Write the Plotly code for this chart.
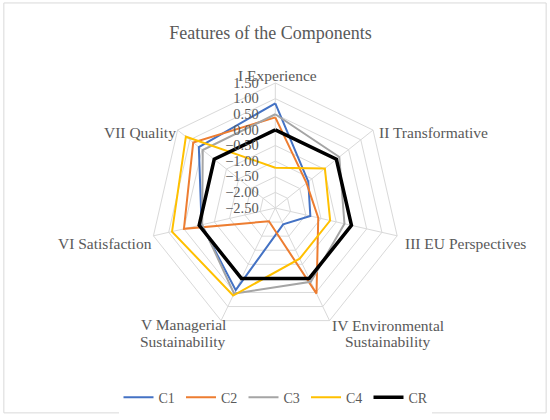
import plotly.graph_objects as go

# Axis categories and component scores
categories = ["I Experience", "II Transformative", "III EU Perspectives",
              "IV Environmental Sustainability", "V Managerial Sustainability",
              "VI Satisfaction", "VII Quality"]

c1 = [0.85, -1.15, -1.35, -1.92, 0.42, -0.08, 0.63]
c2 = [0.40, -1.22, -1.09, 0.54, -2.03, 0.50, 0.86]
c3 = [0.50, 0.12, -0.23, 0.12, 0.54, -0.10, 0.47]
c4 = [-1.21, -0.47, -0.70, -0.70, 0.61, 0.89, 1.16]
cr = [0.00, 0.00, 0.00, 0.00, 0.00, 0.00, 0.00]

radial_ticks = [-2.5, -2.0, -1.5, -1.0, -0.5, 0.0, 0.5, 1.0, 1.5]

series = [("C1", c1, "#4472C4", 2),
          ("C2", c2, "#ED7D31", 2),
          ("C3", c3, "#A5A5A5", 2),
          ("C4", c4, "#FFC000", 2),
          ("CR", cr, "#000000", 3.5)]

fig = go.Figure()

for name, vals, color, width in series:
    fig.add_trace(go.Scatterpolar(
        r=vals + vals[:1],
        theta=categories + categories[:1],
        mode="lines",
        name=name,
        line=dict(color=color, width=width),
    ))

font_family = "Liberation Serif, DejaVu Serif, serif"
grey = "#595959"

# category labels placed like the Excel original (text, x px, y px, anchor)
label_spots = [
    ("I Experience", 277, 75, "center"),
    ("II Transformative", 377, 132, "left"),
    ("III EU Perspectives", 403, 243, "left"),
    ("IV Environmental", 388, 325, "center"),
    ("Sustainability", 388, 341, "center"),
    ("V Managerial", 183, 324, "center"),
    ("Sustainability", 183, 341, "center"),
    ("VI Satisfaction", 154, 243, "right"),
    ("VII Quality", 178, 132, "right"),
]
annots = []
for txt, px, py, anc in label_spots:
    annots.append(dict(text=txt, x=px / 550, y=1 - py / 420, xref="paper", yref="paper",
                       xanchor=anc, yanchor="middle", showarrow=False,
                       font=dict(size=15.5, color=grey, family=font_family)))

fig.update_layout(
    width=550, height=420,
    margin=dict(l=0, r=0, t=0, b=0),
    paper_bgcolor="white",
    font=dict(family=font_family, color=grey, size=14),
    title=dict(text="Features of the Components", x=0.4918, xanchor="center",
               y=0.923, yanchor="middle", font=dict(size=18, color=grey)),
    polar=dict(
        domain=dict(x=[0.2733, 0.7278], y=[0.2071, 0.8024]),
        gridshape="linear",
        bgcolor="white",
        radialaxis=dict(
            range=[-2.5, 1.5],
            tickvals=radial_ticks,
            tickformat=".2f",
            angle=90,
            tickangle=90,
            side="counterclockwise",
            showline=False,
            # invisible ticks just to push the labels off the spoke
            ticks="outside",
            ticklen=11,
            tickcolor="rgba(0,0,0,0)",
            gridcolor="#D9D9D9",
            gridwidth=1,
            tickfont=dict(size=14.5, color=grey),
        ),
        angularaxis=dict(
            rotation=90,
            direction="clockwise",
            showline=True,
            linecolor="#D9D9D9",
            gridcolor="#D9D9D9",
            ticks="",
            showticklabels=False,
        ),
    ),
    legend=dict(
        orientation="h", x=0.5, xanchor="center", y=0.053, yanchor="middle",
        font=dict(size=14, color=grey),
        entrywidth=17.5, entrywidthmode="pixels", itemwidth=30,
    ),
    annotations=annots,
    shapes=[dict(type="rect", xref="paper", yref="paper",
                 x0=0.007, x1=0.993, y0=0.017, y1=0.993,
                 line=dict(color="#D9D9D9", width=1))],
)

# drop the browser's default page margin so the chart sits at the top-left corner
fig.write_html("out.html", config={"displayModeBar": False},
               post_script="document.body.style.margin = '0';")
